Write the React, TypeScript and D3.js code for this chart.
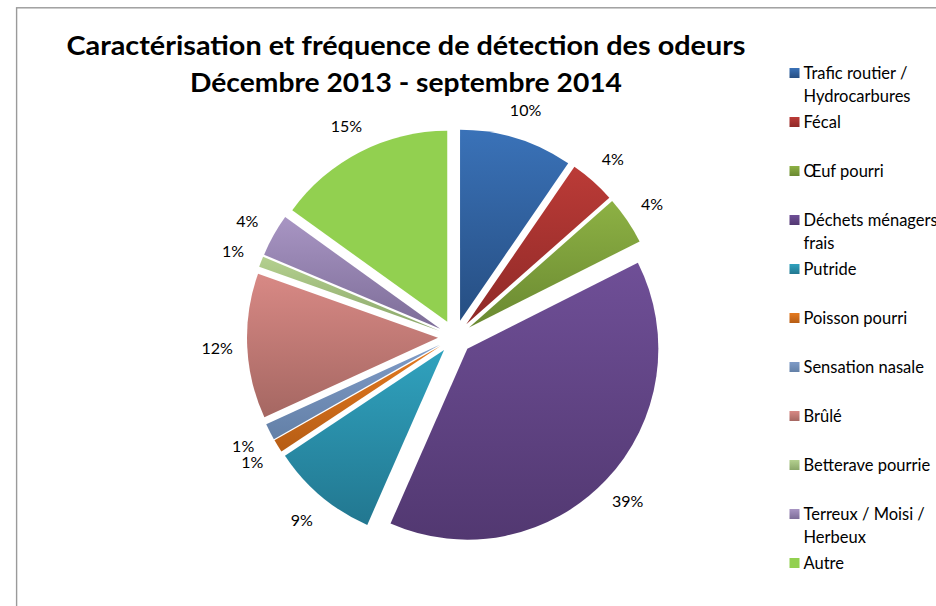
import React from "react";
import * as d3 from "d3";

const categories = [
  "Trafic routier / Hydrocarbures",
  "Fécal",
  "Œuf pourri",
  "Déchets ménagers frais",
  "Putride",
  "Poisson pourri",
  "Sensation nasale",
  "Brûlé",
  "Betterave pourrie",
  "Terreux / Moisi / Herbeux",
  "Autre",
];
const legendLines = [
  ["Trafic routier /", "Hydrocarbures"],
  ["Fécal"],
  ["Œuf pourri"],
  ["Déchets ménagers", "frais"],
  ["Putride"],
  ["Poisson pourri"],
  ["Sensation nasale"],
  ["Brûlé"],
  ["Betterave pourrie"],
  ["Terreux / Moisi /", "Herbeux"],
  ["Autre"],
];
const values = [9.6, 3.9, 4.1, 39.1, 9.1, 1.1, 1.4, 12.3, 0.9, 3.6, 15.1];
const colorTop = ["#3a72b8", "#bb3b37", "#8db144", "#6f4f97", "#30a2be", "#e57a1f", "#7f9bc7", "#d88985", "#b4d08f", "#a895c3", "#92d050"];
const colorBottom = ["#264e82", "#8f2927", "#6a8931", "#523871", "#227790", "#b65d15", "#6380a7", "#a56762", "#8ba76a", "#7d6d98", "#92d050"];
const titleLines = ["Caractérisation et fréquence de détection des odeurs", "Décembre 2013 - septembre 2014"];

const W = 936;
const H = 606;
const cx = 455;
const cy = 337;
const R = 191;
const explode = 17;
const labelR = 221;

export default function App() {
  const total = d3.sum(values);
  const pie = d3.pie<number>().sort(null).startAngle(0).endAngle(2 * Math.PI);
  const arcs = pie(values);
  const arc = d3.arc<d3.PieArcDatum<number>>().innerRadius(0).outerRadius(R);
  const font = "Lato, 'Open Sans', sans-serif";
  const legendY = d3.scaleLinear().domain([0, 10]).range([73, 563]);

  return (
    <svg
      width={W}
      height={H}
      viewBox={`0 0 ${W} ${H}`}
      style={{ position: "absolute", left: 0, top: 0, background: "#fff" }}
    >
      <defs>
        {values.map((_, i) => (
          <linearGradient key={i} id={`g${i}`} x1="0" y1="0" x2="0" y2="1">
            <stop offset="0" stopColor={colorTop[i]} />
            <stop offset="1" stopColor={colorBottom[i]} />
          </linearGradient>
        ))}
      </defs>
      <rect x={0} y={0} width={W} height={H} fill="#fff" />
      <rect x={16.6} y={7.8} width={1000} height={700} fill="none" stroke="#9a9a9a" strokeWidth={1.4} />

      {titleLines.map((t, i) => (
        <text
          key={i}
          x={406}
          y={55 + i * 37}
          textAnchor="middle"
          fontFamily={font}
          fontWeight="bold"
          fontSize={27}
          fill="#000"
          textLength={i === 0 ? 679 : 432}
          lengthAdjust="spacingAndGlyphs"
        >
          {t}
        </text>
      ))}

      {arcs.map((a, i) => {
        const mid = (a.startAngle + a.endAngle) / 2;
        const ox = cx + Math.sin(mid) * explode;
        const oy = cy - Math.cos(mid) * explode;
        return (
          <path key={i} d={arc(a) || ""} transform={`translate(${ox},${oy})`} fill={`url(#g${i})`} />
        );
      })}

      {arcs.map((a, i) => {
        const mid = (a.startAngle + a.endAngle) / 2;
        const ox = cx + Math.sin(mid) * explode;
        const oy = cy - Math.cos(mid) * explode;
        const lx = ox + Math.sin(mid) * labelR;
        const ly = oy - Math.cos(mid) * labelR;
        return (
          <text
            key={i}
            x={lx}
            y={ly}
            textAnchor="middle"
            dominantBaseline="central"
            fontFamily={font}
            fontSize={16}
            fill="#000"
          >
            {`${Math.round((values[i] / total) * 100)}%`}
          </text>
        );
      })}

      {categories.map((c, i) => {
        const y = legendY(i);
        return (
          <g key={c}>
            <rect x={789.5} y={y - 5} width={10} height={10} fill={`url(#g${i})`} />
            {legendLines[i].map((l, j) => (
              <text
                key={j}
                x={803.5}
                y={y + j * 22.5}
                dominantBaseline="central"
                fontFamily={font}
                fontSize={16.5}
                fill="#000"
              >
                {l}
              </text>
            ))}
          </g>
        );
      })}
    </svg>
  );
}
